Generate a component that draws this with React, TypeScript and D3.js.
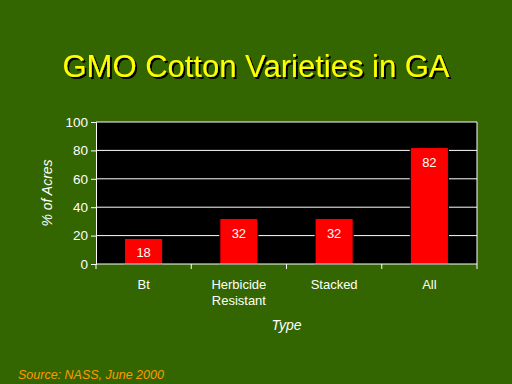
import React, { useEffect, useRef } from "react";
import * as d3 from "d3";

const categories = ["Bt", "Herbicide Resistant", "Stacked", "All"];
const labelLines = [["Bt"], ["Herbicide", "Resistant"], ["Stacked"], ["All"]];
const values = [18, 32, 32, 82];
const yTicks = [0, 20, 40, 60, 80, 100];

export default function App() {
  const ref = useRef<SVGSVGElement>(null);

  useEffect(() => {
    const svg = d3.select(ref.current);
    svg.selectAll("*").remove();

    const margin = { top: 122, right: 35, bottom: 120, left: 96 };
    const width = 512 - margin.left - margin.right;
    const height = 384 - margin.top - margin.bottom;
    const font = "'Liberation Sans', Arial, sans-serif";

    svg.append("rect").attr("width", 512).attr("height", 384).attr("fill", "#336600");

    // drop shadow for the title
    svg.append("defs").append("filter").attr("id", "shadow")
      .append("feDropShadow").attr("dx", 2).attr("dy", 2).attr("stdDeviation", 0)
      .attr("flood-color", "#000").attr("flood-opacity", 1);

    svg.append("text").attr("x", 256).attr("y", 77).attr("text-anchor", "middle")
      .attr("font-family", font).attr("font-size", 31).attr("fill", "#ffff00")
      .attr("filter", "url(#shadow)").text("GMO Cotton Varieties in GA");

    const g = svg.append("g").attr("transform", `translate(${margin.left},${margin.top})`);

    const x = d3.scaleBand().domain(categories).range([0, width]).paddingInner(0.6).paddingOuter(0.3);
    const y = d3.scaleLinear().domain([0, 100]).range([height, 0]);

    g.append("rect").attr("width", width).attr("height", height).attr("fill", "#000");

    g.selectAll(".grid").data(yTicks.slice(1)).enter().append("line")
      .attr("x1", 0).attr("x2", width)
      .attr("y1", (d) => y(d)).attr("y2", (d) => y(d))
      .attr("stroke", "#fff").attr("stroke-width", 1);

    g.selectAll(".bar").data(values).enter().append("rect")
      .attr("x", (d, i) => x(categories[i])!)
      .attr("y", (d) => y(d))
      .attr("width", x.bandwidth())
      .attr("height", (d) => height - y(d))
      .attr("fill", "#ff0000")
      .attr("stroke", "#000").attr("stroke-width", 1);

    g.selectAll(".val").data(values).enter().append("text")
      .attr("x", (d, i) => x(categories[i])! + x.bandwidth() / 2)
      .attr("y", (d) => y(d) + 19)
      .attr("text-anchor", "middle").attr("font-family", font).attr("font-size", 13)
      .attr("fill", "#fff").text((d) => d);

    // right edge of frame
    g.append("line").attr("x1", width).attr("x2", width).attr("y1", 0).attr("y2", height)
      .attr("stroke", "#fff");

    const yAxis = g.append("g").call(d3.axisLeft(y).tickValues(yTicks).tickSize(5).tickPadding(3));
    yAxis.selectAll("path, line").attr("stroke", "#fff");
    yAxis.selectAll("text").attr("fill", "#fff").attr("font-family", font).attr("font-size", 13.5);

    // category boundary ticks
    const xb = d3.scaleLinear().domain([0, categories.length]).range([0, width]);
    const xAxis = g.append("g").attr("transform", `translate(0,${height})`);
    xAxis.append("line").attr("x1", 0).attr("x2", width).attr("stroke", "#fff");
    xAxis.selectAll(".tk").data(d3.range(categories.length + 1)).enter().append("line")
      .attr("x1", (d) => xb(d)).attr("x2", (d) => xb(d))
      .attr("y1", 0).attr("y2", 5).attr("stroke", "#fff");

    labelLines.forEach((lines, i) => {
      const cx = x(categories[i])! + x.bandwidth() / 2;
      const t = g.append("text")
        .attr("x", cx).attr("y", height + 25)
        .attr("text-anchor", "middle").attr("font-family", font).attr("font-size", 13).attr("fill", "#fff");
      lines.forEach((l, j) => {
        t.append("tspan").attr("x", cx).attr("dy", j === 0 ? 0 : 16).text(l);
      });
    });

    g.append("text").attr("x", width / 2).attr("y", height + 66)
      .attr("text-anchor", "middle").attr("font-family", font).attr("font-size", 14)
      .attr("font-style", "italic").attr("fill", "#fff").text("Type");

    svg.append("text").attr("transform", `translate(52,${margin.top + height / 2}) rotate(-90)`)
      .attr("text-anchor", "middle").attr("font-family", font).attr("font-size", 14)
      .attr("font-style", "italic").attr("fill", "#fff").text("% of Acres");

    svg.append("text").attr("x", 18).attr("y", 379)
      .attr("font-family", font).attr("font-size", 12.5).attr("font-style", "italic")
      .attr("fill", "#ff9900").text("Source: NASS, June 2000");
  }, []);

  return <svg ref={ref} width={512} height={384} style={{ position: "absolute", left: 0, top: 0 }} />;
}
